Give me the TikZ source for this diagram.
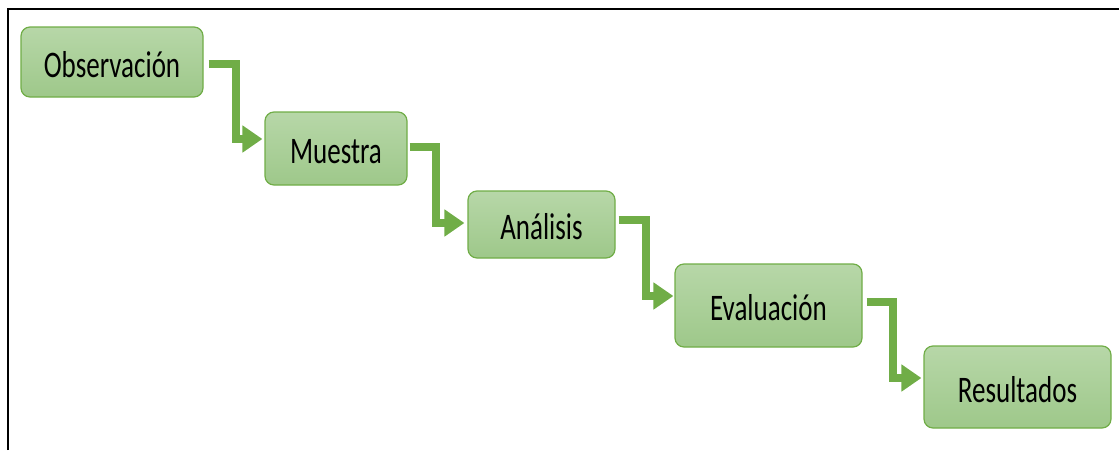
\documentclass[tikz,border=0pt]{standalone}
\usepackage{fontspec}
\setmainfont{Carlito}[FakeStretch=0.72]
\usetikzlibrary{arrows.meta,calc}
\definecolor{boxtop}{RGB}{183,215,168}
\definecolor{boxbot}{RGB}{158,200,138}
\definecolor{edge}{RGB}{112,173,71}
\tikzset{
  stepbox/.style={draw=edge, line width=1.2pt, rounded corners=9pt,
    top color=boxtop, bottom color=boxbot, inner sep=0pt,
    text height=30pt, text depth=0pt,
    font=\fontsize{37.5}{40}\selectfont, text=black},
  flow/.style={draw=edge, line width=8pt,
    -{Triangle[length=20pt,width=26pt]}}
}
\begin{document}
\begin{tikzpicture}[x=1pt,y=-1pt]
\useasboundingbox (0,0) rectangle (1119,450);
\draw[line width=2.5pt, black] (8,450) -- (8,9) -- (1119,9);
\node[stepbox, minimum width=182pt, minimum height=70pt] (A) at (112,62) {Observación};
\node[stepbox, minimum width=142pt, minimum height=73pt] (B) at (336,148.5) {Muestra};
\node[stepbox, minimum width=147pt, minimum height=67pt] (C) at (541.5,224.5) {Análisis};
\node[stepbox, minimum width=187pt, minimum height=83pt] (D) at (768.5,305.5) {Evaluación};
\node[stepbox, minimum width=187pt, minimum height=82pt] (E) at (1017.5,387) {Resultados};
\draw[flow] ($(A.east)+(5,2)$) -| ($(B.west)+(-28,-9.5)$) -- ($(B.west)+(-2,-9.5)$);
\draw[flow] ($(B.east)+(2,-1.5)$) -| ($(C.west)+(-31,-1.5)$) -- ($(C.west)+(-3,-1.5)$);
\draw[flow] ($(C.east)+(3,-5)$) -| ($(D.west)+(-28,-9.5)$) -- ($(D.west)+(-1,-9.5)$);
\draw[flow] ($(D.east)+(4,-3.5)$) -| ($(E.west)+(-30,-9)$) -- ($(E.west)+(-2,-9)$);
\end{tikzpicture}
\end{document}
